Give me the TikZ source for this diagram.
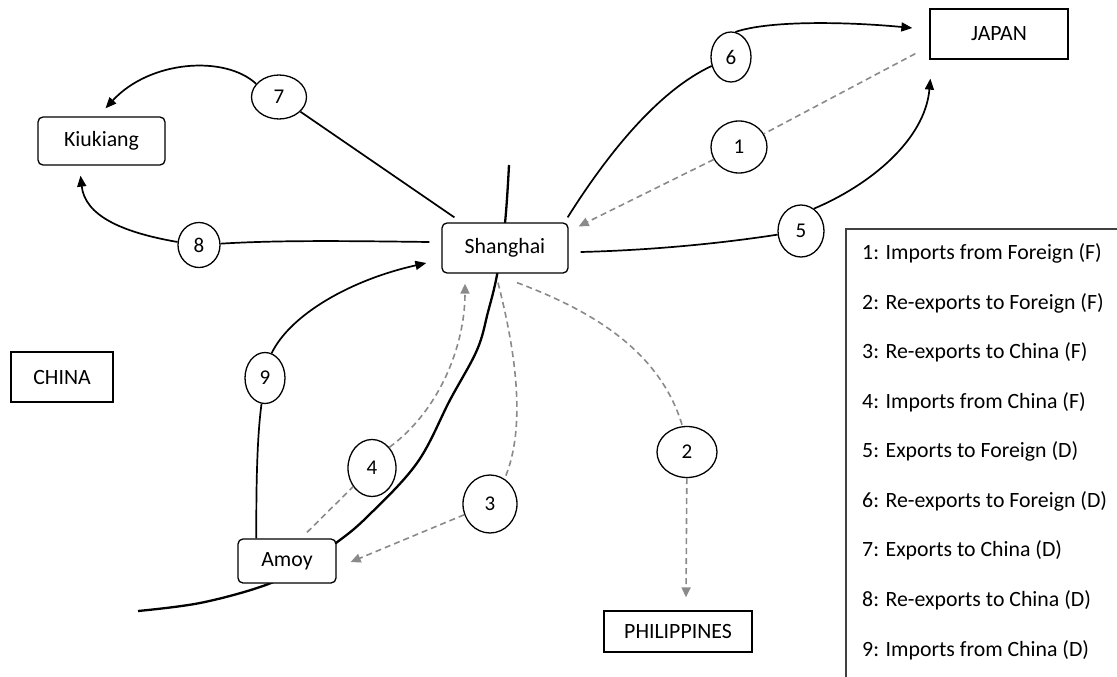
\documentclass[tikz,border=0pt]{standalone}
\usepackage{fontspec}
\setmainfont{Carlito}
\usetikzlibrary{arrows.meta,shapes.geometric,calc}
\definecolor{dgray}{HTML}{8A8A8A}
\tikzset{
  lbl/.style={font=\fontsize{21.8}{26}\selectfont},
  sqbox/.style={draw, line width=1.3pt, inner sep=0pt, fill=white, lbl},
  rbox/.style={sqbox, rounded corners=5pt},
  num/.style={ellipse, draw, line width=1.3pt, fill=white, inner sep=0pt, font=\fontsize{21}{25}\selectfont},
  sline/.style={line width=1.7pt},
  sarrow/.style={line width=1.7pt, -{Triangle[length=11pt,width=9pt]}},
  dline/.style={dgray, line width=1.6pt, dash pattern=on 6pt off 4pt},
  darrow/.style={dline, -{Triangle[length=10pt,width=9pt]}},
  river/.style={line width=2.3pt},
  legtext/.style={anchor=west, font=\fontsize{21.8}{26}\selectfont, inner sep=0pt}
}
\begin{document}
\begin{tikzpicture}[x=1pt,y=-1pt]
\useasboundingbox (0,0) rectangle (1117,677);
% river
\draw[river] plot[smooth, tension=0.6] coordinates {(138,611) (200,603) (263,586) (300,568) (336,543) (367,517) (417,463) (450,400) (477,350) (488,312) (497,275) (505,223) (509,165)};
% places
\node[sqbox, minimum width=138pt, minimum height=50pt] (japan) at (999,34) {JAPAN};
\node[rbox, minimum width=127pt, minimum height=48pt] (kiu) at (101.5,141) {Kiukiang};
\node[rbox, minimum width=126pt, minimum height=50pt] (sh) at (505,248) {Shanghai};
\node[sqbox, minimum width=102pt, minimum height=50pt] (china) at (62,377) {CHINA};
\node[rbox, minimum width=98pt, minimum height=44pt] (amoy) at (287,561) {Amoy};
\node[sqbox, minimum width=148pt, minimum height=41pt] (phil) at (678,631.5) {PHILIPPINES};
% number ellipses
\node[num, minimum width=55pt, minimum height=44pt] (c7) at (279,97) {7};
\node[num, minimum width=42pt, minimum height=45pt] (c8) at (199,245) {8};
\node[num, minimum width=40pt, minimum height=50pt] (c6) at (731,57) {6};
\node[num, minimum width=56pt, minimum height=52pt] (c1) at (739,147) {1};
\node[num, minimum width=46pt, minimum height=52pt] (c5) at (801,231) {5};
\node[num, minimum width=40pt, minimum height=51pt] (c9) at (265,378) {9};
\node[num, minimum width=48pt, minimum height=57pt] (c4) at (372,468) {4};
\node[num, minimum width=54pt, minimum height=58pt] (c3) at (490,504) {3};
\node[num, minimum width=60pt, minimum height=51pt] (c2) at (687,452) {2};
% 7: Exports to China (D)
\draw[sline] ($(sh.north west)+(13,-5)$) -- (c7);
\draw[sarrow] (c7.150) .. controls (225,55) and (150,60) .. ($(kiu.north)+(4,-8)$);
% 8: Re-exports to China (D)
\draw[sline] ($(sh.west)+(-12,-6)$) .. controls (350,241) and (280,240) .. (c8);
\draw[sarrow] (c8.172) .. controls (120,232) and (85,215) .. ($(kiu.south)+(-21,10)$);
% 9: Imports from China (D)
\draw[sline] ($(amoy.north west)+(19,0)$) .. controls (256,470) and (258,430) .. (c9);
\draw[sarrow] (c9.75) .. controls (290,315) and (350,280) .. ($(sh.west)+(-15,15)$);
% 4: Imports from China (F)
\draw[dline] ($(amoy.north)+(20,-6)$) -- (c4);
\draw[darrow] (c4.50) .. controls (440,410) and (465,345) .. ($(sh.south)+(-40,10)$);
% 3: Re-exports to China (F)
\draw[dline] ($(sh.south)+(-7,9)$) .. controls (510,330) and (530,420) .. (c3.60);
\draw[darrow] (c3) -- ($(amoy.east)+(14,1)$);
% 2: Re-exports to Foreign (F)
\draw[dline] ($(sh.south)+(12,9)$) .. controls (590,310) and (660,350) .. (c2.100);
\draw[darrow] (c2) -- ($(phil.north)+(8,-13)$);
% 1: Imports from Foreign (F)
\draw[dline] ($(japan.south west)+(-14,-6)$) -- (c1);
\draw[darrow] (c1) -- ($(sh.north east)+(10,4)$);
% 5: Exports to Foreign (D)
\draw[sline] ($(sh.east)+(12,4)$) .. controls (660,250) and (730,242) .. (c5);
\draw[sarrow] (c5.60) .. controls (870,185) and (925,140) .. ($(japan.south west)+(1,19)$);
% 6: Re-exports to Foreign (D)
\draw[sline] ($(sh.north east)+(-1,-5)$) .. controls (610,150) and (660,90) .. (c6);
\draw[sarrow] (c6.80) .. controls (770,20) and (850,22) .. ($(japan.west)+(-17,-6)$);
% legend
\draw[line width=1.2pt, draw=black!75] (846,229) rectangle (1135,700);
\node[legtext] (l1) at (862,253) {1: Imports from Foreign (F)};
\node[legtext] (l2) at (862,303) {2: Re-exports to Foreign (F)};
\node[legtext] (l3) at (862,352) {3: Re-exports to China (F)};
\node[legtext] (l4) at (862,402) {4: Imports from China (F)};
\node[legtext] (l5) at (862,451) {5: Exports to Foreign (D)};
\node[legtext] (l6) at (862,501) {6: Re-exports to Foreign (D)};
\node[legtext] (l7) at (862,550) {7: Exports to China (D)};
\node[legtext] (l8) at (862,600) {8: Re-exports to China (D)};
\node[legtext] (l9) at (862,650) {9: Imports from China (D)};
\end{tikzpicture}
\end{document}
